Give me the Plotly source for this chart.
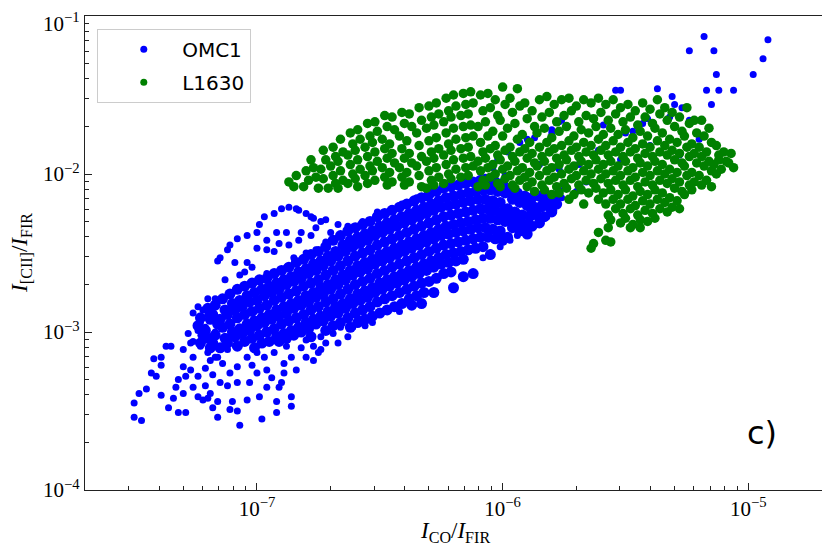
import numpy as np
import plotly.graph_objects as go

# log10(I_CO/I_FIR), log10(I_[CII]/I_FIR) pairs, by region

# OMC1: sparse tail down at the low left
omc1_tail = [
    (-7.50, -3.54), (-7.47, -3.56), (-7.50, -3.45), (-7.48, -3.39), (-7.45, -3.36), (-7.42, -3.17), (-7.39, -3.16), (-7.43, -3.26), (-7.41, -3.28), (-7.39, -3.21),
    (-7.37, -3.09), (-7.35, -3.09), (-7.30, -3.11), (-7.26, -3.16), (-7.23, -3.09), (-7.27, -3.07), (-7.34, -3.42), (-7.36, -3.48), (-7.32, -3.51), (-7.29, -3.51),
    (-7.30, -3.39), (-7.26, -3.35), (-7.24, -3.41), (-7.22, -3.43), (-7.20, -3.42), (-7.19, -3.39), (-7.15, -3.32), (-7.16, -3.44), (-7.16, -3.54), (-7.10, -3.44),
    (-7.08, -3.50), (-7.07, -3.59), (-7.04, -3.43), (-6.99, -3.41), (-6.98, -3.55), (-6.92, -3.44), (-6.92, -3.51), (-6.86, -3.47), (-6.86, -3.41), (-6.91, -3.35),
    (-6.94, -3.29), (-6.90, -3.32), (-6.89, -3.26), (-6.86, -3.16), (-6.89, -3.20), (-6.93, -3.13), (-6.96, -3.24), (-7.00, -3.26), (-7.03, -3.32), (-7.08, -3.32),
    (-7.11, -3.26), (-7.14, -3.20), (-7.16, -3.16), (-7.19, -3.18), (-7.21, -3.23), (-7.24, -3.28), (-7.27, -3.24), (-7.30, -3.22), (-7.32, -3.30), (-7.29, -3.28),
    (-7.18, -3.27), (-7.12, -3.34), (-7.08, -3.22), (-7.04, -3.16), (-7.00, -3.13), (-6.97, -3.16), (-6.88, -3.09), (-6.82, -3.10), (-6.80, -3.05), (-6.77, -3.09),
    (-6.75, -3.13), (-6.80, -3.16), (-6.72, -3.07), (-6.67, -3.07), (-6.63, -3.03), (-6.66, -2.97), (-6.69, -3.01), (-6.74, -3.03), (-6.61, -2.97), (-6.59, -2.91),
    (-7.33, -3.35), (-7.21, -3.34), (-7.12, -3.11), (-7.02, -3.21), (-6.96, -3.35), (-6.84, -3.24), (-6.77, -3.18), (-7.11, -3.49), (-7.18, -3.48), (-7.39, -3.40),
    (-7.26, -2.88), (-7.24, -2.84), (-7.22, -2.86), (-7.20, -2.89), (-7.23, -2.94), (-7.21, -2.97), (-7.24, -2.99), (-7.28, -3.01), (-7.26, -3.06), (-7.22, -3.05),
    (-7.20, -3.04), (-7.17, -3.00), (-7.20, -3.13), (-7.17, -3.16), (-7.20, -2.79), (-7.17, -2.79), (-6.74, -3.11), (-6.56, -2.96), (-6.53, -2.94), (-6.42, -2.87),
]

# OMC1: upper arm above the main band
omc1_arm = [
    (-7.16, -2.55), (-7.15, -2.53), (-7.12, -2.48), (-7.11, -2.45), (-7.08, -2.41), (-7.04, -2.39), (-6.99, -2.32), (-6.97, -2.27), (-6.93, -2.25), (-6.90, -2.22),
    (-6.87, -2.21), (-6.84, -2.22), (-6.80, -2.25), (-6.78, -2.27), (-6.74, -2.30), (-6.72, -2.29), (-6.67, -2.32), (-6.63, -2.33), (-7.09, -2.56), (-7.04, -2.56),
    (-7.05, -2.62), (-7.02, -2.59), (-6.96, -2.63), (-6.96, -2.48), (-7.00, -2.47), (-6.93, -2.49), (-6.88, -2.59), (-6.85, -2.53), (-6.81, -2.54), (-6.80, -2.50),
    (-6.76, -2.48), (-6.72, -2.43), (-6.91, -2.44), (-6.87, -2.45), (-6.83, -2.42), (-6.82, -2.37), (-6.88, -2.37), (-6.92, -2.37), (-6.96, -2.42), (-7.00, -2.37),
    (-6.78, -2.39), (-6.76, -2.34), (-6.70, -2.37), (-7.07, -2.64), (-7.13, -2.67), (-6.83, -2.23), (-6.77, -2.28), (-6.57, -2.30), (-6.51, -2.24), (-6.45, -2.22),
    (-6.41, -2.19), (-6.35, -2.15), (-6.31, -2.15), (-6.28, -2.11), (-6.24, -2.08), (-6.19, -2.07), (-6.15, -2.06), (-6.08, -2.04),
]

# OMC1: dense main band
omc1_core = [
    (-7.23, -2.91), (-7.24, -2.96), (-7.22, -3.02), (-7.23, -3.07),
    (-7.20, -2.85), (-7.19, -2.92), (-7.21, -2.99), (-7.20, -3.04), (-7.19, -3.10),
    (-7.17, -2.83), (-7.18, -2.89), (-7.16, -2.95), (-7.17, -3.02), (-7.18, -3.07),
    (-7.14, -2.79), (-7.13, -2.86), (-7.15, -2.92), (-7.14, -2.97), (-7.13, -3.04), (-7.15, -3.10),
    (-7.11, -2.76), (-7.10, -2.82), (-7.12, -2.89), (-7.11, -2.95), (-7.10, -3.00), (-7.12, -3.07),
    (-7.08, -2.73), (-7.07, -2.80), (-7.09, -2.86), (-7.08, -2.91), (-7.07, -2.98), (-7.09, -3.03), (-7.08, -3.09),
    (-7.05, -2.71), (-7.04, -2.77), (-7.06, -2.84), (-7.05, -2.89), (-7.04, -2.95), (-7.06, -3.01), (-7.05, -3.06),
    (-7.02, -2.69), (-7.01, -2.75), (-7.03, -2.81), (-7.02, -2.87), (-7.01, -2.93), (-7.03, -2.99), (-7.02, -3.04), (-7.01, -3.10),
    (-6.99, -2.67), (-6.98, -2.73), (-7.00, -2.80), (-6.99, -2.85), (-6.98, -2.91), (-7.00, -2.96), (-6.99, -3.02), (-6.98, -3.07),
    (-6.96, -2.66), (-6.95, -2.71), (-6.97, -2.77), (-6.96, -2.83), (-6.95, -2.89), (-6.97, -2.94), (-6.96, -3.00), (-6.95, -3.06),
    (-6.93, -2.63), (-6.92, -2.69), (-6.94, -2.75), (-6.93, -2.80), (-6.92, -2.86), (-6.94, -2.92), (-6.93, -2.98), (-6.92, -3.03),
    (-6.90, -2.61), (-6.89, -2.67), (-6.91, -2.73), (-6.90, -2.78), (-6.89, -2.84), (-6.91, -2.90), (-6.90, -2.95), (-6.89, -3.01), (-6.91, -3.06),
    (-6.87, -2.59), (-6.86, -2.65), (-6.88, -2.70), (-6.87, -2.76), (-6.86, -2.82), (-6.88, -2.88), (-6.87, -2.93), (-6.86, -2.99), (-6.88, -3.04),
    (-6.84, -2.56), (-6.83, -2.62), (-6.85, -2.68), (-6.84, -2.74), (-6.83, -2.80), (-6.85, -2.85), (-6.84, -2.91), (-6.83, -2.97), (-6.85, -3.02),
    (-6.81, -2.54), (-6.80, -2.60), (-6.82, -2.66), (-6.81, -2.71), (-6.80, -2.77), (-6.82, -2.83), (-6.81, -2.89), (-6.80, -2.94), (-6.82, -3.00),
    (-6.78, -2.51), (-6.77, -2.57), (-6.79, -2.63), (-6.78, -2.69), (-6.77, -2.75), (-6.79, -2.81), (-6.78, -2.86), (-6.77, -2.92), (-6.79, -2.98), (-6.78, -3.03),
    (-6.75, -2.49), (-6.74, -2.55), (-6.76, -2.61), (-6.75, -2.67), (-6.74, -2.72), (-6.76, -2.78), (-6.75, -2.84), (-6.74, -2.90), (-6.76, -2.95),
    (-6.72, -2.46), (-6.71, -2.52), (-6.73, -2.58), (-6.72, -2.64), (-6.71, -2.70), (-6.73, -2.76), (-6.72, -2.81), (-6.71, -2.87), (-6.73, -2.93), (-6.72, -2.99),
    (-6.69, -2.42), (-6.68, -2.49), (-6.70, -2.55), (-6.69, -2.61), (-6.68, -2.67), (-6.70, -2.73), (-6.69, -2.79), (-6.68, -2.84), (-6.70, -2.90), (-6.69, -2.96),
    (-6.66, -2.39), (-6.65, -2.45), (-6.67, -2.52), (-6.66, -2.58), (-6.65, -2.64), (-6.67, -2.70), (-6.66, -2.76), (-6.65, -2.82), (-6.67, -2.88), (-6.66, -2.94),
    (-6.63, -2.36), (-6.62, -2.42), (-6.64, -2.49), (-6.63, -2.55), (-6.62, -2.61), (-6.64, -2.67), (-6.63, -2.73), (-6.62, -2.79), (-6.64, -2.85), (-6.63, -2.91), (-6.62, -2.97),
    (-6.60, -2.34), (-6.59, -2.40), (-6.61, -2.46), (-6.60, -2.52), (-6.59, -2.58), (-6.61, -2.64), (-6.60, -2.70), (-6.59, -2.76), (-6.61, -2.82), (-6.60, -2.88), (-6.59, -2.94),
    (-6.57, -2.32), (-6.56, -2.38), (-6.58, -2.44), (-6.57, -2.50), (-6.56, -2.56), (-6.58, -2.62), (-6.57, -2.68), (-6.56, -2.74), (-6.58, -2.80), (-6.57, -2.86), (-6.56, -2.92),
    (-6.54, -2.30), (-6.53, -2.36), (-6.55, -2.42), (-6.54, -2.48), (-6.53, -2.54), (-6.55, -2.60), (-6.54, -2.66), (-6.53, -2.72), (-6.55, -2.78), (-6.54, -2.84), (-6.53, -2.90),
    (-6.51, -2.27), (-6.50, -2.33), (-6.52, -2.39), (-6.51, -2.45), (-6.50, -2.51), (-6.52, -2.57), (-6.51, -2.63), (-6.50, -2.69), (-6.52, -2.75), (-6.51, -2.81), (-6.50, -2.88),
    (-6.48, -2.25), (-6.47, -2.31), (-6.49, -2.37), (-6.48, -2.43), (-6.47, -2.49), (-6.49, -2.55), (-6.48, -2.61), (-6.47, -2.67), (-6.49, -2.73), (-6.48, -2.79), (-6.47, -2.86),
    (-6.45, -2.23), (-6.44, -2.29), (-6.46, -2.35), (-6.45, -2.41), (-6.44, -2.47), (-6.46, -2.53), (-6.45, -2.59), (-6.44, -2.65), (-6.46, -2.71), (-6.45, -2.77), (-6.44, -2.84),
    (-6.42, -2.21), (-6.41, -2.27), (-6.43, -2.33), (-6.42, -2.39), (-6.41, -2.45), (-6.43, -2.51), (-6.42, -2.57), (-6.41, -2.63), (-6.43, -2.69), (-6.42, -2.75), (-6.41, -2.82),
    (-6.39, -2.19), (-6.38, -2.25), (-6.40, -2.31), (-6.39, -2.37), (-6.38, -2.43), (-6.40, -2.49), (-6.39, -2.55), (-6.38, -2.61), (-6.40, -2.67), (-6.39, -2.73), (-6.38, -2.79),
    (-6.36, -2.17), (-6.35, -2.23), (-6.37, -2.29), (-6.36, -2.35), (-6.35, -2.41), (-6.37, -2.47), (-6.36, -2.53), (-6.35, -2.59), (-6.37, -2.65), (-6.36, -2.71), (-6.35, -2.77),
    (-6.33, -2.15), (-6.32, -2.21), (-6.34, -2.27), (-6.33, -2.33), (-6.32, -2.39), (-6.34, -2.45), (-6.33, -2.51), (-6.32, -2.57), (-6.34, -2.63), (-6.33, -2.69), (-6.32, -2.75),
    (-6.30, -2.13), (-6.29, -2.19), (-6.31, -2.25), (-6.30, -2.31), (-6.29, -2.37), (-6.31, -2.43), (-6.30, -2.49), (-6.29, -2.55), (-6.31, -2.61), (-6.30, -2.68),
    (-6.27, -2.11), (-6.26, -2.17), (-6.28, -2.23), (-6.27, -2.29), (-6.26, -2.35), (-6.28, -2.41), (-6.27, -2.47), (-6.26, -2.53), (-6.28, -2.59), (-6.27, -2.66),
    (-6.24, -2.09), (-6.23, -2.15), (-6.25, -2.21), (-6.24, -2.27), (-6.23, -2.33), (-6.25, -2.39), (-6.24, -2.45), (-6.23, -2.51), (-6.25, -2.57), (-6.24, -2.63),
    (-6.21, -2.08), (-6.20, -2.14), (-6.22, -2.20), (-6.21, -2.26), (-6.20, -2.32), (-6.22, -2.38), (-6.21, -2.44), (-6.20, -2.50), (-6.22, -2.56), (-6.21, -2.62),
    (-6.18, -2.07), (-6.17, -2.13), (-6.19, -2.19), (-6.18, -2.25), (-6.17, -2.31), (-6.19, -2.37), (-6.18, -2.43), (-6.17, -2.49), (-6.19, -2.55),
    (-6.15, -2.06), (-6.14, -2.12), (-6.16, -2.18), (-6.15, -2.24), (-6.14, -2.30), (-6.16, -2.36), (-6.15, -2.42), (-6.14, -2.48), (-6.16, -2.54),
    (-6.12, -2.05), (-6.11, -2.11), (-6.13, -2.17), (-6.12, -2.23), (-6.11, -2.29), (-6.13, -2.35), (-6.12, -2.41), (-6.11, -2.47),
    (-6.09, -2.04), (-6.08, -2.10), (-6.10, -2.16), (-6.09, -2.22), (-6.08, -2.28), (-6.10, -2.34), (-6.09, -2.40), (-6.08, -2.46),
    (-6.06, -2.04), (-6.05, -2.10), (-6.07, -2.16), (-6.06, -2.22), (-6.05, -2.28), (-6.07, -2.34), (-6.06, -2.40),
    (-6.03, -2.05), (-6.02, -2.11), (-6.04, -2.17), (-6.03, -2.23), (-6.02, -2.29), (-6.04, -2.35), (-6.03, -2.41),
    (-6.00, -2.06), (-5.99, -2.12), (-6.01, -2.18), (-6.00, -2.24), (-5.99, -2.30), (-6.01, -2.36), (-6.00, -2.42),
    (-5.97, -2.10), (-5.96, -2.16), (-5.98, -2.22), (-5.97, -2.28), (-5.96, -2.34), (-5.98, -2.40),
    (-5.94, -2.12), (-5.93, -2.18), (-5.95, -2.24), (-5.94, -2.30), (-5.93, -2.36),
    (-5.91, -2.14), (-5.90, -2.20), (-5.92, -2.26), (-5.91, -2.32), (-5.90, -2.38),
    (-5.88, -2.15), (-5.87, -2.21), (-5.89, -2.27), (-5.88, -2.33),
    (-5.85, -2.14), (-5.84, -2.20), (-5.86, -2.26), (-5.85, -2.31),
    (-5.82, -2.15), (-5.81, -2.21), (-5.83, -2.27),
    (-5.79, -2.14), (-5.78, -2.19), (-5.80, -2.24),
    (-6.37, -2.83), (-6.33, -2.82), (-6.28, -2.75), (-6.20, -2.72), (-6.16, -2.65), (-6.12, -2.63), (-6.05, -2.51), (-5.80, -2.23),
]

# OMC1: upper right, partly under the L1630 points, and the outliers
omc1_upper = [
    (-5.54, -1.47), (-5.52, -1.47), (-5.37, -1.46), (-5.31, -1.51), (-5.30, -1.56), (-5.27, -1.58), (-5.24, -1.66), (-5.32, -1.64), (-5.41, -1.65), (-5.43, -1.68),
    (-5.50, -1.74), (-5.47, -1.73), (-5.59, -1.69), (-5.76, -1.66), (-5.77, -1.67), (-5.80, -1.72), (-5.80, -1.74), (-5.87, -1.77), (-5.90, -1.78), (-5.93, -1.80),
    (-5.98, -1.86), (-6.02, -1.91), (-6.04, -1.96), (-6.07, -2.02), (-6.05, -2.04), (-5.98, -2.09), (-5.93, -2.15), (-5.88, -2.15), (-5.84, -2.18), (-5.80, -2.18),
    (-5.76, -2.15), (-5.82, -2.12), (-5.84, -2.22), (-5.89, -2.24), (-5.93, -2.27), (-5.85, -2.32), (-5.82, -2.27), (-5.90, -2.37), (-5.94, -2.39), (-5.97, -2.42),
    (-6.01, -2.46), (-6.05, -2.50), (-6.08, -2.53), (-5.70, -2.11), (-5.66, -2.05), (-5.77, -2.10),
    (-5.18, -1.13), (-5.24, -1.22), (-5.14, -1.22), (-4.92, -1.15), (-4.94, -1.27), (-4.98, -1.37), (-5.13, -1.37), (-5.17, -1.47), (-5.12, -1.47), (-5.06, -1.47),
    (-5.15, -1.56), (-5.61, -1.85), (-5.52, -1.91), (-5.40, -1.82), (-5.28, -1.88), (-5.20, -1.78), (-5.69, -1.94), (-5.77, -1.97), (-5.85, -1.94), (-5.93, -1.97),
    (-5.99, -2.01),
]

# L1630: arc on the left
l1630_arc = [
    (-6.87, -2.05), (-6.85, -2.08), (-6.84, -2.01), (-6.81, -2.08), (-6.80, -1.98), (-6.78, -1.91), (-6.77, -1.96), (-6.79, -2.04), (-6.75, -2.09), (-6.76, -2.02),
    (-6.73, -1.85), (-6.72, -1.91), (-6.74, -1.97), (-6.73, -2.03), (-6.71, -2.09),
    (-6.69, -1.83), (-6.68, -1.89), (-6.70, -1.95), (-6.69, -2.01), (-6.68, -2.06),
    (-6.66, -1.78), (-6.65, -1.86), (-6.67, -1.92), (-6.66, -1.98), (-6.65, -2.04), (-6.67, -2.09),
    (-6.62, -1.74), (-6.61, -1.81), (-6.63, -1.88), (-6.62, -1.94), (-6.61, -2.00), (-6.63, -2.06),
    (-6.59, -1.72), (-6.58, -1.78), (-6.60, -1.85), (-6.59, -1.91), (-6.58, -1.97), (-6.60, -2.03), (-6.59, -2.08),
    (-6.55, -1.68), (-6.54, -1.76), (-6.56, -1.83), (-6.55, -1.89), (-6.54, -1.95), (-6.56, -2.01), (-6.55, -2.06),
    (-6.52, -1.67), (-6.51, -1.73), (-6.53, -1.80), (-6.52, -1.86), (-6.51, -1.92), (-6.53, -1.98), (-6.52, -2.04),
    (-6.48, -1.63), (-6.47, -1.70), (-6.49, -1.78), (-6.48, -1.84), (-6.47, -1.90), (-6.49, -1.96), (-6.48, -2.02), (-6.47, -2.07),
    (-6.45, -1.64), (-6.44, -1.72), (-6.46, -1.81), (-6.45, -1.87), (-6.44, -1.93), (-6.46, -1.99), (-6.45, -2.05),
    (-6.41, -1.61), (-6.40, -1.68), (-6.42, -1.76), (-6.41, -1.84), (-6.40, -1.90), (-6.42, -1.96), (-6.41, -2.02), (-6.40, -2.07),
    (-6.38, -1.62), (-6.37, -1.70), (-6.39, -1.79), (-6.38, -1.87), (-6.37, -1.93), (-6.39, -1.99), (-6.38, -2.05),
    (-6.34, -1.58), (-6.33, -1.66), (-6.35, -1.74), (-6.34, -1.82), (-6.33, -1.89), (-6.35, -1.95), (-6.34, -2.01), (-6.33, -2.08),
    (-6.30, -1.57), (-6.29, -1.64), (-6.31, -1.71), (-6.30, -1.79), (-6.29, -1.86), (-6.31, -1.92), (-6.30, -1.98), (-6.29, -2.04), (-6.31, -2.09),
    (-6.27, -1.55), (-6.26, -1.62), (-6.28, -1.69), (-6.27, -1.77), (-6.26, -1.84), (-6.28, -1.90), (-6.27, -1.96), (-6.26, -2.02), (-6.28, -2.07),
    (-6.23, -1.52), (-6.22, -1.60), (-6.24, -1.67), (-6.23, -1.74), (-6.22, -1.81), (-6.24, -1.88), (-6.23, -1.94), (-6.22, -2.00), (-6.24, -2.06),
    (-6.20, -1.50), (-6.19, -1.57), (-6.21, -1.64), (-6.20, -1.71), (-6.19, -1.78), (-6.21, -1.85), (-6.20, -1.91), (-6.19, -1.97), (-6.21, -2.03),
    (-6.16, -1.49), (-6.15, -1.56), (-6.17, -1.63), (-6.16, -1.70), (-6.15, -1.77), (-6.17, -1.84), (-6.16, -1.90), (-6.15, -1.96), (-6.17, -2.02),
    (-6.13, -1.48), (-6.12, -1.55), (-6.14, -1.62), (-6.13, -1.69), (-6.12, -1.76), (-6.14, -1.83), (-6.13, -1.89), (-6.12, -1.95), (-6.14, -2.01),
]

# L1630: horizontal band, upper spread and lower lobe on the right
l1630_band = [
    (-6.09, -1.50), (-6.08, -1.60), (-6.10, -1.70), (-6.09, -1.80), (-6.08, -1.86), (-6.10, -1.92), (-6.09, -1.98), (-6.08, -2.04), (-6.10, -2.08),
    (-6.06, -1.49), (-6.05, -1.58), (-6.07, -1.67), (-6.06, -1.76), (-6.05, -1.84), (-6.07, -1.90), (-6.06, -1.96), (-6.05, -2.02), (-6.07, -2.07),
    (-6.03, -1.53), (-6.02, -1.63), (-6.04, -1.73), (-6.03, -1.82), (-6.02, -1.88), (-6.04, -1.94), (-6.03, -2.00), (-6.02, -2.06),
    (-6.00, -1.45), (-5.99, -1.56), (-6.01, -1.66), (-6.00, -1.76), (-5.99, -1.85), (-6.01, -1.91), (-6.00, -1.97), (-5.99, -2.03), (-6.01, -2.08),
    (-5.97, -1.52), (-5.96, -1.61), (-5.98, -1.71), (-5.97, -1.83), (-5.96, -1.89), (-5.98, -1.95), (-5.97, -2.01), (-5.96, -2.07),
    (-5.94, -1.46), (-5.93, -1.57), (-5.95, -1.68), (-5.94, -1.78), (-5.93, -1.86), (-5.95, -1.92), (-5.94, -1.98), (-5.93, -2.04), (-5.95, -2.09),
    (-5.91, -1.55), (-5.90, -1.65), (-5.92, -1.75), (-5.91, -1.84), (-5.90, -1.90), (-5.92, -1.96), (-5.91, -2.02), (-5.90, -2.08),
    (-5.88, -1.60), (-5.87, -1.70), (-5.89, -1.80), (-5.88, -1.87), (-5.87, -1.93), (-5.89, -1.99), (-5.88, -2.05), (-5.87, -2.11),
    (-5.85, -1.53), (-5.84, -1.64), (-5.86, -1.74), (-5.85, -1.83), (-5.84, -1.89), (-5.86, -1.95), (-5.85, -2.01), (-5.84, -2.07),
    (-5.82, -1.51), (-5.81, -1.61), (-5.83, -1.71), (-5.82, -1.80), (-5.81, -1.86), (-5.83, -1.92), (-5.82, -1.98), (-5.81, -2.04), (-5.83, -2.10),
    (-5.79, -1.56), (-5.78, -1.67), (-5.80, -1.77), (-5.79, -1.84), (-5.78, -1.90), (-5.80, -1.96), (-5.79, -2.02), (-5.78, -2.08), (-5.80, -2.13),
    (-5.76, -1.53), (-5.75, -1.63), (-5.77, -1.73), (-5.76, -1.82), (-5.75, -1.88), (-5.77, -1.94), (-5.76, -2.00), (-5.75, -2.06), (-5.77, -2.12),
    (-5.73, -1.52), (-5.72, -1.60), (-5.74, -1.70), (-5.73, -1.79), (-5.72, -1.85), (-5.74, -1.91), (-5.73, -1.97), (-5.72, -2.03), (-5.74, -2.09), (-5.73, -2.16),
    (-5.70, -1.57), (-5.69, -1.67), (-5.71, -1.76), (-5.70, -1.83), (-5.69, -1.89), (-5.71, -1.95), (-5.70, -2.01), (-5.69, -2.07), (-5.71, -2.13),
    (-5.67, -1.53), (-5.66, -1.63), (-5.68, -1.72), (-5.67, -1.80), (-5.66, -1.86), (-5.68, -1.92), (-5.67, -1.98), (-5.66, -2.04), (-5.68, -2.10), (-5.67, -2.19),
    (-5.64, -1.55), (-5.63, -1.65), (-5.65, -1.74), (-5.64, -1.82), (-5.63, -1.88), (-5.65, -1.94), (-5.64, -2.00), (-5.63, -2.06), (-5.65, -2.12), (-5.64, -2.47), (-5.63, -2.44),
    (-5.61, -1.52), (-5.60, -1.61), (-5.62, -1.70), (-5.61, -1.78), (-5.60, -1.85), (-5.62, -1.91), (-5.61, -1.97), (-5.60, -2.03), (-5.62, -2.09), (-5.61, -2.16), (-5.61, -2.37),
    (-5.58, -1.56), (-5.57, -1.66), (-5.59, -1.75), (-5.58, -1.82), (-5.57, -1.88), (-5.59, -1.94), (-5.58, -2.00), (-5.57, -2.06), (-5.59, -2.12), (-5.58, -2.19), (-5.57, -2.26), (-5.58, -2.42), (-5.56, -2.43), (-5.57, -2.34),
    (-5.55, -1.53), (-5.54, -1.62), (-5.56, -1.71), (-5.55, -1.79), (-5.54, -1.86), (-5.56, -1.92), (-5.55, -1.98), (-5.54, -2.04), (-5.56, -2.10), (-5.55, -2.16), (-5.54, -2.22), (-5.56, -2.29),
    (-5.52, -1.58), (-5.51, -1.67), (-5.53, -1.75), (-5.52, -1.83), (-5.51, -1.89), (-5.53, -1.95), (-5.52, -2.01), (-5.51, -2.07), (-5.53, -2.13), (-5.52, -2.19), (-5.51, -2.25), (-5.52, -2.31),
    (-5.49, -1.56), (-5.48, -1.64), (-5.50, -1.72), (-5.49, -1.80), (-5.48, -1.86), (-5.50, -1.92), (-5.49, -1.98), (-5.48, -2.04), (-5.50, -2.10), (-5.49, -2.16), (-5.48, -2.22), (-5.50, -2.28), (-5.48, -2.34),
    (-5.46, -1.60), (-5.45, -1.69), (-5.47, -1.77), (-5.46, -1.84), (-5.45, -1.90), (-5.47, -1.96), (-5.46, -2.02), (-5.45, -2.08), (-5.47, -2.14), (-5.46, -2.20), (-5.45, -2.26), (-5.47, -2.32),
    (-5.43, -1.55), (-5.42, -1.64), (-5.44, -1.73), (-5.43, -1.81), (-5.42, -1.87), (-5.44, -1.93), (-5.43, -1.99), (-5.42, -2.05), (-5.44, -2.11), (-5.43, -2.17), (-5.42, -2.23), (-5.44, -2.29), (-5.44, -2.34),
    (-5.40, -1.59), (-5.39, -1.68), (-5.41, -1.76), (-5.40, -1.83), (-5.39, -1.89), (-5.41, -1.95), (-5.40, -2.01), (-5.39, -2.07), (-5.41, -2.13), (-5.40, -2.19), (-5.39, -2.25), (-5.41, -2.30),
    (-5.37, -1.53), (-5.36, -1.62), (-5.38, -1.71), (-5.37, -1.79), (-5.36, -1.86), (-5.38, -1.92), (-5.37, -1.98), (-5.36, -2.04), (-5.38, -2.10), (-5.37, -2.16), (-5.36, -2.22), (-5.38, -2.28),
    (-5.34, -1.58), (-5.33, -1.66), (-5.35, -1.74), (-5.34, -1.82), (-5.33, -1.88), (-5.35, -1.94), (-5.34, -2.00), (-5.33, -2.06), (-5.35, -2.12), (-5.34, -2.18), (-5.33, -2.24),
    (-5.31, -1.61), (-5.30, -1.70), (-5.32, -1.78), (-5.31, -1.85), (-5.30, -1.91), (-5.32, -1.97), (-5.31, -2.03), (-5.30, -2.09), (-5.32, -2.15), (-5.31, -2.21),
    (-5.28, -1.64), (-5.27, -1.73), (-5.29, -1.80), (-5.28, -1.87), (-5.27, -1.93), (-5.29, -1.99), (-5.28, -2.05), (-5.27, -2.11), (-5.29, -2.17), (-5.28, -2.22),
    (-5.25, -1.58), (-5.24, -1.68), (-5.26, -1.76), (-5.25, -1.83), (-5.24, -1.89), (-5.26, -1.95), (-5.25, -2.01), (-5.24, -2.07), (-5.26, -2.13),
    (-5.22, -1.66), (-5.21, -1.74), (-5.23, -1.81), (-5.22, -1.87), (-5.21, -1.93), (-5.23, -1.99), (-5.22, -2.05), (-5.23, -2.10),
    (-5.19, -1.66), (-5.18, -1.76), (-5.20, -1.83), (-5.19, -1.89), (-5.18, -1.95), (-5.20, -2.01), (-5.19, -2.07),
    (-5.16, -1.71), (-5.15, -1.80), (-5.17, -1.86), (-5.16, -1.92), (-5.15, -1.98), (-5.17, -2.04), (-5.15, -2.08),
    (-5.13, -1.82), (-5.12, -1.88), (-5.14, -1.94), (-5.13, -2.00), (-5.12, -1.91),
    (-5.10, -1.86), (-5.09, -1.92), (-5.11, -1.97),
    (-5.07, -1.87), (-5.06, -1.96), (-5.08, -1.93),
]

x_major = [1e-7, 1e-6, 1e-5]
x_major_text = ["10<sup>−7</sup>", "10<sup>−6</sup>", "10<sup>−5</sup>"]
y_major = [1e-4, 1e-3, 1e-2, 1e-1]
# the top label is drawn as an annotation so it is not clipped at the page top
y_major_text = ["10<sup>−4</sup>", "10<sup>−3</sup>", "10<sup>−2</sup>", ""]
y_top_label = "10<sup>−1</sup>"
x_minor = [m * 10.0**e for e in (-8, -7, -6, -5) for m in range(2, 10)]
y_minor = [m * 10.0**e for e in (-4, -3, -2) for m in range(2, 10)]

# sparse regions get plain dots, the packed regions slightly bigger ones so they read as solid
omc1 = np.array(omc1_tail + omc1_arm + omc1_upper + omc1_core)
omc1_size = [7] * (len(omc1_tail) + len(omc1_arm) + len(omc1_upper)) + [11] * len(omc1_core)
l1630 = np.array(l1630_arc + l1630_band)

fig = go.Figure()
fig.add_trace(go.Scatter(
    x=10**omc1[:, 0], y=10**omc1[:, 1], mode="markers", showlegend=False,
    marker=dict(color="blue", size=omc1_size, opacity=1, line=dict(width=0))))
fig.add_trace(go.Scatter(
    x=10**l1630[:, 0], y=10**l1630[:, 1], mode="markers", showlegend=False,
    marker=dict(color="green", size=9.5, opacity=1, line=dict(width=0))))

# legend entries only
pad = "\u00a0"
for name, color, grp in [("OMC1", "blue", "a"), ("L1630", "green", "b")]:
    fig.add_trace(go.Scatter(
        x=[None], y=[None], mode="markers", name=pad + name, legendgroup=grp,
        marker=dict(color=color, size=7)))

serif = "Liberation Serif"
tick_font = dict(family=serif, size=21, color="black")
axis_common = dict(
    type="log", showgrid=False, zeroline=False, showline=True, linecolor="#222",
    linewidth=1.2, mirror=True, ticks="inside", ticklen=7, tickwidth=1, tickcolor="#222",
    tickfont=tick_font, automargin=False, ticklabeloverflow="allow",
)
fig.update_xaxes(
    **axis_common, range=[-7.70, -4.70], tickvals=x_major, ticktext=x_major_text,
    minor=dict(tickvals=x_minor, ticks="inside", ticklen=4, tickcolor="#222"),
)
fig.update_yaxes(
    **axis_common, range=[-4, -1], tickvals=y_major, ticktext=y_major_text,
    minor=dict(tickvals=y_minor, ticks="inside", ticklen=4, tickcolor="#222"),
)

fig.add_annotation(
    text=y_top_label, x=-0.005, y=1.0169, xref="paper", yref="paper",
    xanchor="right", yanchor="top", showarrow=False, font=tick_font, borderpad=0)

title_font = dict(family=serif, size=23, color="black")
fig.add_annotation(
    text="<i>I</i><sub>CO</sub>/<i>I</i><sub>FIR</sub>", x=0.502, y=-0.089,
    xref="paper", yref="paper", xanchor="center", yanchor="middle", showarrow=False, font=title_font)
fig.add_annotation(
    text="<i>I</i><sub>[CII]</sub>/<i>I</i><sub>FIR</sub>", x=-0.087, y=0.5, textangle=-90,
    xref="paper", yref="paper", xanchor="center", yanchor="middle", showarrow=False, font=title_font)
fig.add_annotation(
    text="c)", x=0.919, y=0.120, xref="paper", yref="paper", xanchor="center", yanchor="middle",
    showarrow=False, font=dict(family="DejaVu Sans", size=32, color="black"))

# the page adds an 8px body margin, so the figure is 8px smaller than the window
fig.update_layout(
    width=822, height=548, margin=dict(l=77, r=8, t=8, b=66),
    paper_bgcolor="white", plot_bgcolor="white",
    showlegend=True,
    legend=dict(
        x=0.016, y=0.973, xanchor="left", yanchor="top",
        bgcolor="rgba(255,255,255,0.8)", bordercolor="#ccc", borderwidth=1,
        font=dict(family="DejaVu Sans", size=20, color="black"),
        tracegroupgap=4, itemwidth=54, indentation=14,
    ),
)

fig.write_html("out.html")
